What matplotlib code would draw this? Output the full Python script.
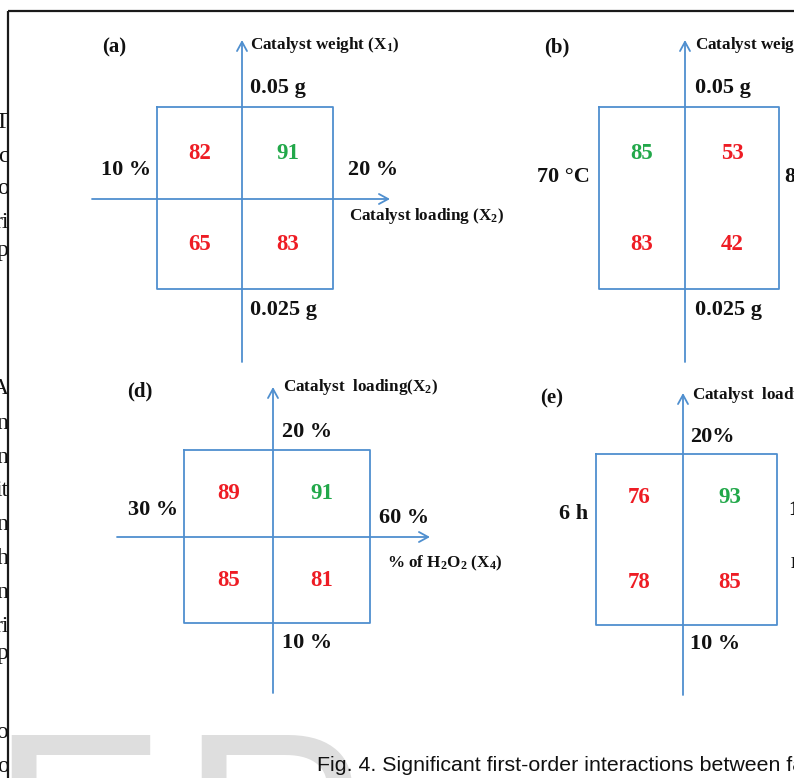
import matplotlib
matplotlib.use("Agg")
import matplotlib.pyplot as plt

# Valores de cada quadrante: [sup. esq., sup. dir., inf. esq., inf. dir.]
letras = ["(a)", "(b)", "(d)", "(e)"]
valores_a = [82, 91, 65, 83]
valores_b = [85, 53, 83, 42]
valores_d = [89, 91, 85, 81]
valores_e = [76, 93, 78, 85]
maiores = [1, 0, 1, 1]          # quadrante com o melhor resultado (verde)

# Niveis de cada fator: [esquerda, direita, cima, baixo]
niveis_a = ["10 %", "20 %", "0.05 g", "0.025 g"]
niveis_b = ["70 \u00b0C", "80 \u00b0C", "0.05 g", "0.025 g"]
niveis_d = ["30 %", "60 %", "20 %", "10 %"]
niveis_e = ["6 h", "12 h", "20%", "10 %"]

# Nomes dos fatores: [eixo vertical, eixo horizontal]
fatores_a = [r"Catalyst weight ($\mathregular{X_1}$)", r"Catalyst loading ($\mathregular{X_2}$)"]
fatores_b = [r"Catalyst weight ($\mathregular{X_1}$)", r"Temperature ($\mathregular{X_3}$)"]
fatores_d = [r"Catalyst  loading($\mathregular{X_2}$)", r"% of $\mathregular{H_2O_2}$ ($\mathregular{X_4}$)"]
fatores_e = [r"Catalyst  loading($\mathregular{X_2}$)", r"Reaction time ($\mathregular{X_5}$)"]

legenda = "Fig. 4. Significant first-order interactions between factors"

# Restos do texto da coluna ao lado (cortados pela moldura)
restos = ["T", "c", "o", "ri", "p", "A", "n", "n", "it", "n", "h", "n", "ri", "p", "fo", "o"]
restos_y = [122, 156, 188, 222, 250, 388, 423, 457, 490, 525, 558, 592, 626, 653, 732, 766]

AZUL = "#4f8fcf"
VERMELHO = "#ee1c24"
VERDE = "#22a84a"
SERIF = "Liberation Serif"

# Geometria de cada painel (em pixels da figura)
paineis = [
    dict(cx=242, cy=199, box=(157, 333, 107, 289), v=(40, 362), h=(92, 390),
         letra=(114, 47), nome_v=(250, 45), nome_h=(349, 216),
         esq=(151, 170), dir=(348, 170), cima=(250, 88), baixo=(250, 310)),
    dict(cx=685, cy=199, box=(599, 779, 107, 289), v=(40, 362), h=(535, 850),
         letra=(557, 47), nome_v=(695, 45), nome_h=(800, 216),
         esq=(590, 177), dir=(785, 177), cima=(695, 88), baixo=(695, 310)),
    dict(cx=273, cy=537, box=(184, 370, 450, 623), v=(387, 693), h=(117, 430),
         letra=(140, 391), nome_v=(283, 387), nome_h=(387, 563),
         esq=(178, 510), dir=(379, 518), cima=(282, 432), baixo=(282, 643)),
    dict(cx=683, cy=540, box=(596, 777, 454, 625), v=(393, 695), h=(530, 850),
         letra=(552, 398), nome_v=(692, 395), nome_h=(790, 564),
         esq=(588, 514), dir=(789, 510), cima=(690, 437), baixo=(690, 644)),
]
todos_valores = [valores_a, valores_b, valores_d, valores_e]
todos_niveis = [niveis_a, niveis_b, niveis_d, niveis_e]
todos_fatores = [fatores_a, fatores_b, fatores_d, fatores_e]

L, A = 794, 778
fig = plt.figure(figsize=(L / 100, A / 100), dpi=100)
ax = fig.add_axes([0, 0, 1, 1])
ax.set_xlim(0, L)
ax.set_ylim(A, 0)
ax.axis("off")

# marca d'agua ao fundo
ax.text(-11, 918, "E", fontsize=191, family="Liberation Sans", color="#dedede",
        ha="left", va="baseline", zorder=0)
ax.text(179, 918, "R", fontsize=191, family="Liberation Sans", color="#dedede",
        ha="left", va="baseline", zorder=0)

seta = dict(arrowstyle="->,head_length=0.55,head_width=0.3", color=AZUL, lw=1.3,
            shrinkA=0, shrinkB=0, mutation_scale=12)

for p, vals, nivs, fats, letra, verde in zip(paineis, todos_valores, todos_niveis,
                                             todos_fatores, letras, maiores):
    x0, x1, y0, y1 = p["box"]
    ax.plot([x0, x1, x1, x0, x0], [y0, y0, y1, y1, y0], color=AZUL, lw=1.3)
    # eixos com seta
    ax.annotate("", xy=(p["cx"], p["v"][0]), xytext=(p["cx"], p["v"][1]), arrowprops=seta)
    ax.annotate("", xy=(p["h"][1], p["cy"]), xytext=(p["h"][0], p["cy"]), arrowprops=seta)

    # valores nos centros dos quadrantes
    xs = [(x0 + p["cx"]) / 2, (p["cx"] + x1) / 2]
    ys = [(y0 + p["cy"]) / 2, (p["cy"] + y1) / 2]
    for k, v in enumerate(vals):
        cor = VERDE if k == verde else VERMELHO
        ax.text(xs[k % 2], ys[k // 2], str(v), color=cor, fontsize=16.5, family=SERIF,
                fontweight="bold", ha="center", va="center")

    kw = dict(family=SERIF, fontweight="bold", color="#111111", va="center")
    ax.text(*p["letra"], letra, fontsize=15, ha="center", **kw)
    ax.text(*p["esq"], nivs[0], fontsize=16, ha="right", **kw)
    ax.text(*p["dir"], nivs[1], fontsize=16, ha="left", **kw)
    ax.text(*p["cima"], nivs[2], fontsize=16, ha="left", **kw)
    ax.text(*p["baixo"], nivs[3], fontsize=16, ha="left", **kw)
    ax.text(*p["nome_v"], fats[0], fontsize=12.3, ha="left", **kw)
    ax.text(*p["nome_h"], fats[1], fontsize=12.3, ha="left", **kw)

ax.text(317, 771, legenda, fontsize=15.4, family="Liberation Sans", color="#111111",
        ha="left", va="baseline")

# coluna de texto vizinha, cortada na moldura
tira = fig.add_axes([0, 0, 8 / L, 1])
tira.set_xlim(-40, 8)
tira.set_ylim(A, 0)
tira.axis("off")
for s, y in zip(restos, restos_y):
    tira.text(12, y, s, fontsize=17, family=SERIF, color="#111111",
              ha="right", va="center", clip_on=True)

# moldura da figura
ax.plot([8, L], [11, 11], color="#1a1a1a", lw=1.6, solid_capstyle="butt")
ax.plot([8, 8], [11, A], color="#1a1a1a", lw=1.6, solid_capstyle="butt")

fig.savefig("out.png", dpi=100)
